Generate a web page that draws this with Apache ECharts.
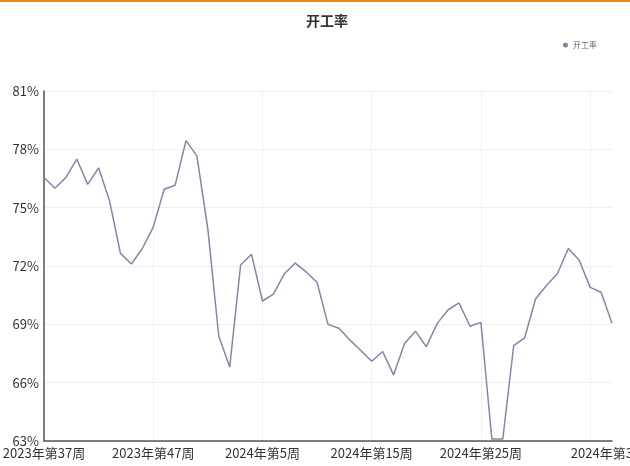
<!DOCTYPE html>
<html>
<head>
<meta charset="utf-8">
<script src="https://cdn.jsdelivr.net/npm/echarts@6/dist/echarts.min.js"></script>
<style>html,body{margin:0;padding:0;background:#fff;}#c{width:630px;height:466px;}</style>
</head>
<body>
<div id="c"></div>
<script>
const titleText = '开工率';
const seriesName = '开工率';
const weeks2023 = [37,38,39,40,41,42,43,44,45,46,47,48,49,50,51,52];
const weeks2024 = [1,2,3,4,5,6,7,8,9,10,11,12,13,14,15,16,17,18,19,20,21,22,23,24,25,26,27,28,29,30,31,32,33,34,35,36,37];
const categories = weeks2023.map(w => '2023年第' + w + '周').concat(weeks2024.map(w => '2024年第' + w + '周'));
const values = [
  76.55, 76.0, 76.55, 77.5, 76.2, 77.05, 75.35, 72.65, 72.1, 72.9,
  74.0, 75.95, 76.15, 78.45, 77.65, 73.9, 68.4, 66.8, 72.05, 72.6,
  70.2, 70.55, 71.6, 72.15, 71.7, 71.15, 69.0, 68.8, 68.2, 67.65,
  67.1, 67.6, 66.4, 68.0, 68.65, 67.85, 69.05, 69.75, 70.1, 68.9,
  69.1, 63.1, 63.1, 67.9, 68.3, 70.3, 71.0, 71.6, 72.9, 72.3,
  70.9, 70.65, 69.05
];
const yTicks = {min: 63, max: 81, interval: 3};

const chart = echarts.init(document.getElementById('c'));
const lastIdx = categories.length - 1;
chart.setOption({
  animation: false,
  backgroundColor: '#ffffff',
  graphic: [{type: 'rect', left: 0, top: 0, shape: {width: 630, height: 2}, style: {fill: '#f5841f'}}],
  title: {
    text: titleText, left: 301, top: 9,
    textStyle: {fontSize: 14, fontWeight: 'bold', color: '#333', fontFamily: 'Noto Sans CJK SC'}
  },
  legend: {
    data: [seriesName], right: 28, top: 36, icon: 'circle', itemWidth: 5, itemHeight: 5, itemGap: 4,
    textStyle: {fontSize: 8, color: '#666', fontFamily: 'Noto Sans CJK SC'}
  },
  grid: {left: 44, right: 18, top: 91, bottom: 25, containLabel: false, outerBoundsMode: 'none'},
  xAxis: {
    type: 'category', data: categories, boundaryGap: false,
    axisLine: {lineStyle: {color: '#555', width: 1.5}},
    axisTick: {show: false},
    axisLabel: {
      interval: function (i) { return (i % 10 === 0 && i <= 40) || i === lastIdx; },
      margin: 6, fontSize: 13, color: '#333', fontFamily: 'Noto Sans CJK SC'
    },
    splitLine: {show: true, interval: 9, lineStyle: {color: '#f0f0f0'}}
  },
  yAxis: {
    type: 'value', min: yTicks.min, max: yTicks.max, interval: yTicks.interval,
    axisLine: {show: true, lineStyle: {color: '#555', width: 1.5}},
    axisTick: {show: false},
    axisLabel: {formatter: '{value}%', margin: 5, fontSize: 13, color: '#333', fontFamily: 'Noto Sans CJK SC'},
    splitLine: {lineStyle: {color: '#eeeeee'}}
  },
  series: [{
    name: seriesName, type: 'line', data: values, showSymbol: false, symbol: 'circle',
    lineStyle: {color: '#8585aa', width: 1.5}, itemStyle: {color: '#8585aa'}
  }]
});
</script>
</body>
</html>
